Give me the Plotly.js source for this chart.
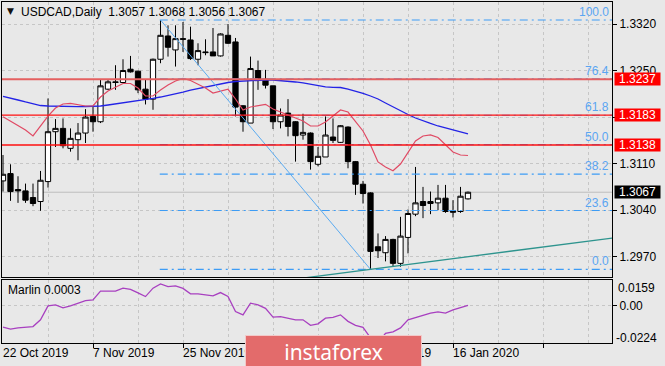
<!DOCTYPE html>
<html><head><meta charset="utf-8">
<script src="https://cdn.plot.ly/plotly-3.0.1.min.js"></script>
<style>html,body{margin:0;padding:0;background:#e8e8e8;}#chart{width:665px;height:366px;}</style>
</head><body><div id="chart"></div>
<script>
// ---------- data ----------
const dates = ['2019-10-22','2019-10-23','2019-10-24','2019-10-25','2019-10-28','2019-10-29','2019-10-30','2019-10-31','2019-11-01','2019-11-04',
'2019-11-05','2019-11-06','2019-11-07','2019-11-08','2019-11-11','2019-11-12','2019-11-13','2019-11-14','2019-11-15','2019-11-18',
'2019-11-19','2019-11-20','2019-11-21','2019-11-22','2019-11-25','2019-11-26','2019-11-27','2019-11-28','2019-11-29','2019-12-02',
'2019-12-03','2019-12-04','2019-12-05','2019-12-06','2019-12-09','2019-12-10','2019-12-11','2019-12-12','2019-12-13','2019-12-16',
'2019-12-17','2019-12-18','2019-12-19','2019-12-20','2019-12-23','2019-12-24','2019-12-26','2019-12-27','2019-12-30','2019-12-31',
'2020-01-02','2020-01-03','2020-01-06','2020-01-07','2020-01-08','2020-01-09','2020-01-10','2020-01-13','2020-01-14','2020-01-15',
'2020-01-16','2020-01-17','2020-01-20'];
const open = [1.3084,1.3095,1.3071,1.3069,1.3059,1.3053,1.3083,1.3158,1.3163,1.3133,
1.3146,1.3156,1.3181,1.3173,1.3222,1.3233,1.3232,1.3252,1.3249,1.3222,
1.3207,1.3267,1.3302,1.3281,1.3298,1.3296,1.3267,1.3278,1.3278,1.3272,
1.3303,1.3293,1.3197,1.3171,1.3250,1.3237,1.3227,1.3173,1.3186,1.3173,
1.3153,1.3156,1.3109,1.3120,1.3150,1.3142,1.3165,1.3113,1.3079,1.3066,
1.2985,1.2976,1.2996,1.2960,1.2999,1.3034,1.3053,1.3050,1.3051,1.3058,
1.3039,1.3038,1.3057];
const high = [1.3123,1.3109,1.3091,1.3080,1.3080,1.3099,1.3208,1.3177,1.3178,1.3163,
1.3171,1.3192,1.3196,1.3237,1.3236,1.3258,1.3267,1.3272,1.3250,1.3237,
1.3268,1.3326,1.3318,1.3318,1.3323,1.3316,1.3291,1.3297,1.3314,1.3306,
1.3320,1.3299,1.3198,1.3271,1.3265,1.3251,1.3227,1.3193,1.3207,1.3174,
1.3185,1.3157,1.3135,1.3181,1.3178,1.3168,1.3166,1.3114,1.3084,1.3067,
1.3005,1.3001,1.2997,1.3030,1.3041,1.3105,1.3075,1.3068,1.3078,1.3078,
1.3055,1.3075,1.3068];
const low = [1.3068,1.3054,1.3051,1.3051,1.3046,1.3039,1.3074,1.3135,1.3133,1.3128,
1.3115,1.3141,1.3158,1.3171,1.3221,1.3221,1.3231,1.3247,1.3216,1.3199,
1.3191,1.3261,1.3271,1.3256,1.3278,1.3266,1.3258,1.3273,1.3272,1.3271,
1.3290,1.3181,1.3158,1.3171,1.3221,1.3223,1.3162,1.3163,1.3151,1.3113,
1.3146,1.3101,1.3106,1.3120,1.3141,1.3141,1.3103,1.3063,1.3050,1.2951,
1.2968,1.2963,1.2955,1.2955,1.2975,1.3031,1.3028,1.3034,1.3040,1.3036,
1.3029,1.3036,1.3056];
const close = [1.3094,1.3068,1.3069,1.3055,1.3050,1.3085,1.3158,1.3163,1.3137,1.3148,
1.3156,1.3180,1.3173,1.3227,1.3233,1.3232,1.3250,1.3248,1.3221,1.3207,
1.3267,1.3303,1.3285,1.3298,1.3297,1.3268,1.3280,1.3277,1.3272,1.3305,
1.3291,1.3195,1.3173,1.3253,1.3235,1.3228,1.3173,1.3183,1.3166,1.3152,
1.3157,1.3113,1.3121,1.3153,1.3145,1.3167,1.3113,1.3079,1.3065,1.2978,
1.2979,1.2996,1.2960,1.3001,1.3035,1.3051,1.3047,1.3053,1.3058,1.3038,
1.3037,1.3061,1.3067];
const maSlow = [1.32110,1.32087,1.32057,1.32027,1.31997,1.31974,1.31967,1.31962,1.31959,1.31956,
1.31956,1.31959,1.31962,1.31967,1.31982,1.31997,1.32012,1.32034,1.32049,1.32068,
1.32083,1.32102,1.32125,1.32155,1.32177,1.32207,1.32230,1.32260,1.32283,1.32298,
1.32320,1.32335,1.32343,1.32350,1.32358,1.32358,1.32358,1.32350,1.32343,1.32328,
1.32313,1.32290,1.32268,1.32253,1.32248,1.32245,1.32222,1.32192,1.32158,1.32117,
1.32072,1.32012,1.31952,1.31899,1.31839,1.31786,1.31741,1.31704,1.31666,1.31636,
1.31606,1.31576,1.31546];
const maFast = [1.31806,1.31741,1.31673,1.31606,1.31516,1.31669,1.31816,1.31937,1.31997,1.32007,
1.31989,1.31967,1.31967,1.32102,1.32192,1.32253,1.32305,1.32305,1.32237,1.32117,
1.32117,1.32207,1.32283,1.32343,1.32383,1.32350,1.32298,1.32237,1.32162,1.32192,
1.32218,1.32072,1.31907,1.31952,1.31974,1.31992,1.31922,1.31876,1.31839,1.31794,
1.31741,1.31666,1.31666,1.31726,1.31816,1.31907,1.31876,1.31741,1.31591,1.31380,
1.31125,1.31049,1.30992,1.31094,1.31275,1.31440,1.31516,1.31531,1.31493,1.31380,
1.31275,1.31230,1.31222];
const marlin = [-0.01285,-0.01405,-0.01327,-0.01297,-0.01248,-0.00844,0.0,0.00060,-0.00121,0.0,
0.00151,0.00320,0.00362,0.00887,0.00887,0.00887,0.01068,0.00995,0.00784,0.00561,
0.01068,0.01327,0.01164,0.01206,0.01055,0.00724,0.00724,0.00663,0.00603,0.00802,
0.00573,-0.00344,-0.00543,0.00163,0.00060,-0.00151,-0.00682,-0.00645,-0.00754,-0.00844,
-0.00844,-0.01176,-0.01086,-0.00742,-0.00694,-0.00543,-0.00935,-0.01176,-0.01297,-0.01930,
-0.02240,-0.01659,-0.01568,-0.01327,-0.00844,-0.00694,-0.00573,-0.00440,-0.00362,-0.00440,
-0.00241,-0.00121,0.00030];

const dateTickIdx = [0,12,24,36,48,60];
const dateTickText = ['22 Oct 2019','7 Nov 2019','25 Nov 2019','11 Dec 2019','30 Dec 2019','16 Jan 2020'];
const priceTicks = [1.2970,1.3040,1.3110,1.3180,1.3250,1.3320];
const priceTickText = ['1.2970','1.3040','1.3110','1.3180','1.3250','1.3320'];
const redLevels = [1.3237,1.3183,1.3138];
const lastPrice = 1.3067;
const fibRatios = [0,23.6,38.2,50,61.8,76.4,100];
const fibHighIdx = 21, fibHigh = 1.3326, fibLowIdx = 49, fibLow = 1.2951;
const trendIdx = [49,62], trendVal = [1.2951,1.2970];
const marlinLabels = ['0.0159','-0.0224'];
const titleText = 'USDCAD,Daily\u00a0 1.3057 1.3068 1.3056 1.3067';
const marlinText = 'Marlin 0.0003';

// ---------- helpers ----------
const W = 665, H = 366, L = 2, R = 612, T = 2, B = 343;
const PX = x => (x - L) / (R - L);
const PY = y => (B - y) / (B - T);
const idx = dates.map((d, i) => i);
const xr = [-0.133, 81.2];
const grid = {showgrid:true, gridcolor:'#c6c6c6', gridwidth:1, griddash:'3px,3px'};
const FONT = 'Liberation Sans, Arial, sans-serif';

const traces = [
  {type:'candlestick', x:idx, open:open, high:high, low:low, close:close, xaxis:'x', yaxis:'y',
   increasing:{line:{color:'#000', width:1}, fillcolor:'#ffffff'},
   decreasing:{line:{color:'#000', width:1}, fillcolor:'#000000'},
   whiskerwidth:0, hoverinfo:'skip'},
  {type:'scatter', mode:'lines', x:idx, y:maSlow, xaxis:'x', yaxis:'y', line:{color:'#2323e6', width:1.3}, hoverinfo:'skip'},
  {type:'scatter', mode:'lines', x:idx, y:maFast, xaxis:'x', yaxis:'y', line:{color:'#e04a64', width:1.2}, hoverinfo:'skip'},
  {type:'scatter', mode:'lines', x:idx, y:marlin, xaxis:'x2', yaxis:'y2', line:{color:'#a840c0', width:1.3}, hoverinfo:'skip'}
];

const shapes = [];
// current price line
shapes.push({type:'line', xref:'x', yref:'y', x0:xr[0], x1:xr[1], y0:lastPrice, y1:lastPrice, line:{color:'#bdbdbd', width:1}, layer:'below'});
// fibonacci levels
const fibVal = r => fibLow + (fibHigh - fibLow) * r / 100;
fibRatios.forEach(r => {
  shapes.push({type:'line', xref:'x', yref:'y', x0:fibHighIdx - 0.1, x1:xr[1] + 5, y0:fibVal(r), y1:fibVal(r),
    line:{color:'#3d9cf5', width:1.2, dash:'8px,4px,2px,4px'}, layer:'above'});
});
shapes.push({type:'line', xref:'x', yref:'y', x0:fibHighIdx, x1:fibLowIdx, y0:fibHigh, y1:fibLow, line:{color:'#5aaaf0', width:1}, layer:'above'});
// trend line (extended)
const slope = (trendVal[1] - trendVal[0]) / (trendIdx[1] - trendIdx[0]);
const tX0 = 30, tX1 = 90;
shapes.push({type:'line', xref:'x', yref:'y', x0:tX0, x1:tX1,
  y0:trendVal[0] + slope * (tX0 - trendIdx[0]), y1:trendVal[0] + slope * (tX1 - trendIdx[0]),
  line:{color:'#2e948e', width:1.3}, layer:'above'});
// red levels
redLevels.forEach((v, k) => {
  shapes.push({type:'line', xref:'x', yref:'y', x0:xr[0], x1:xr[1], y0:v, y1:v,
    line:{color: k === 0 ? '#e46060' : '#ff1010', width: k === 0 ? 2 : 1.3}, layer:'above'});
});

const ann = [];
ann.push({xref:'paper', yref:'paper', x:PX(10), y:PY(11.5), text:'\u25BC', showarrow:false, xanchor:'center', yanchor:'middle', font:{size:9, color:'#111', family:'DejaVu Sans'}});
ann.push({xref:'paper', yref:'paper', x:PX(19), y:PY(12.5), text:titleText, showarrow:false, xanchor:'left', yanchor:'middle', font:{size:12, color:'#000', family:FONT}});
fibRatios.forEach(r => {
  ann.push({xref:'paper', yref:'y', x:PX(611), y:fibVal(r), text:r.toFixed(1), showarrow:false, xanchor:'right', yanchor:'bottom', yshift:-1,
    font:{size:12, color:'#5aa5f2', family:FONT}});
});
redLevels.concat([lastPrice]).forEach((v, k) => {
  ann.push({xref:'paper', yref:'y', x:PX(614), y:v, text:v.toFixed(4), showarrow:false, xanchor:'left', yanchor:'middle',
    bgcolor: k === 3 ? '#000000' : '#ff0000', borderpad:1, width:43, height:10, align:'center',
    font:{size:12, color:'#ffffff', family:FONT}});
});
ann.push({xref:'paper', yref:'paper', x:PX(6), y:PY(290), text:marlinText, showarrow:false, xanchor:'left', yanchor:'middle', font:{size:12, color:'#000', family:FONT}});
ann.push({xref:'paper', yref:'paper', x:PX(616), y:PY(287.5), text:marlinLabels[0], showarrow:false, xanchor:'left', yanchor:'middle', font:{size:12, color:'#000', family:FONT}});
ann.push({xref:'paper', yref:'paper', x:PX(614), y:PY(337.5), text:marlinLabels[1], showarrow:false, xanchor:'left', yanchor:'middle', font:{size:12, color:'#000', family:FONT}});
dateTickIdx.forEach((i, k) => {
  ann.push({xref:'x2', yref:'paper', x:i, y:PY(353), text:dateTickText[k], showarrow:false, xanchor:'left', yanchor:'middle', xshift:-2,
    font:{size:12, color:'#000', family:FONT}});
});
// watermark
ann.push({xref:'paper', yref:'paper', x:PX(245), y:PY(335), text:'instaforex', showarrow:false, xanchor:'left', yanchor:'top',
  width:175, height:31, borderpad:0, bgcolor:'#e36b6b', bordercolor:'#f2c9c9', borderwidth:1, align:'center', valign:'middle',
  font:{size:21, color:'#ffffff', family:'Noto Sans, Open Sans, sans-serif'}});

const gridIdx = [6,12,18,24,30,36,42,48,54,60,66,72,78];
const layout = {
  width:W, height:H, margin:{l:L, r:W - R, t:T, b:H - B},
  paper_bgcolor:'#e8e8e8', plot_bgcolor:'#e8e8e8', showlegend:false,
  font:{family:FONT, size:12, color:'#000'},
  boxgap:0.3, boxgroupgap:0,
  xaxis:Object.assign({domain:[0,1], anchor:'y', range:xr, tickmode:'array', tickvals:gridIdx, showticklabels:false, ticks:'',
    showline:true, linecolor:'#000', linewidth:1, mirror:true, zeroline:false, rangeslider:{visible:false}, fixedrange:true}, grid),
  yaxis:Object.assign({domain:[PY(277),1], anchor:'x', range:[1.293949,1.335309], side:'right', tickmode:'array', tickvals:priceTicks, ticktext:priceTickText,
    ticks:'outside', ticklen:4, tickcolor:'#000', showline:true, linecolor:'#000', linewidth:1, mirror:true, zeroline:false, fixedrange:true,
    tickfont:{size:12, color:'#000', family:FONT}}, grid),
  xaxis2:Object.assign({domain:[0,1], anchor:'y2', range:xr, tickmode:'array', tickvals:[12,24,36,48,60,72], showticklabels:false,
    ticks:'outside', ticklen:4, tickcolor:'#000',
    minor:{tickvals:[6,18,30,42,54,66,78], showgrid:true, gridcolor:'#c6c6c6', griddash:'3px,3px', ticks:''},
    showline:true, linecolor:'#000', linewidth:1, mirror:true, zeroline:false, fixedrange:true}, grid),
  yaxis2:Object.assign({domain:[0,PY(279.5)], anchor:'x2', range:[-0.0224,0.0159], side:'right', tickmode:'array', tickvals:[0], ticktext:['0.00'],
    ticks:'outside', ticklen:4, tickcolor:'#000', showline:true, linecolor:'#000', linewidth:1, mirror:true, zeroline:false, fixedrange:true,
    tickfont:{size:12, color:'#000', family:FONT}}, grid),
  shapes:shapes, annotations:ann
};
Plotly.newPlot('chart', traces, layout, {displayModeBar:false, staticPlot:true});
</script></body></html>
